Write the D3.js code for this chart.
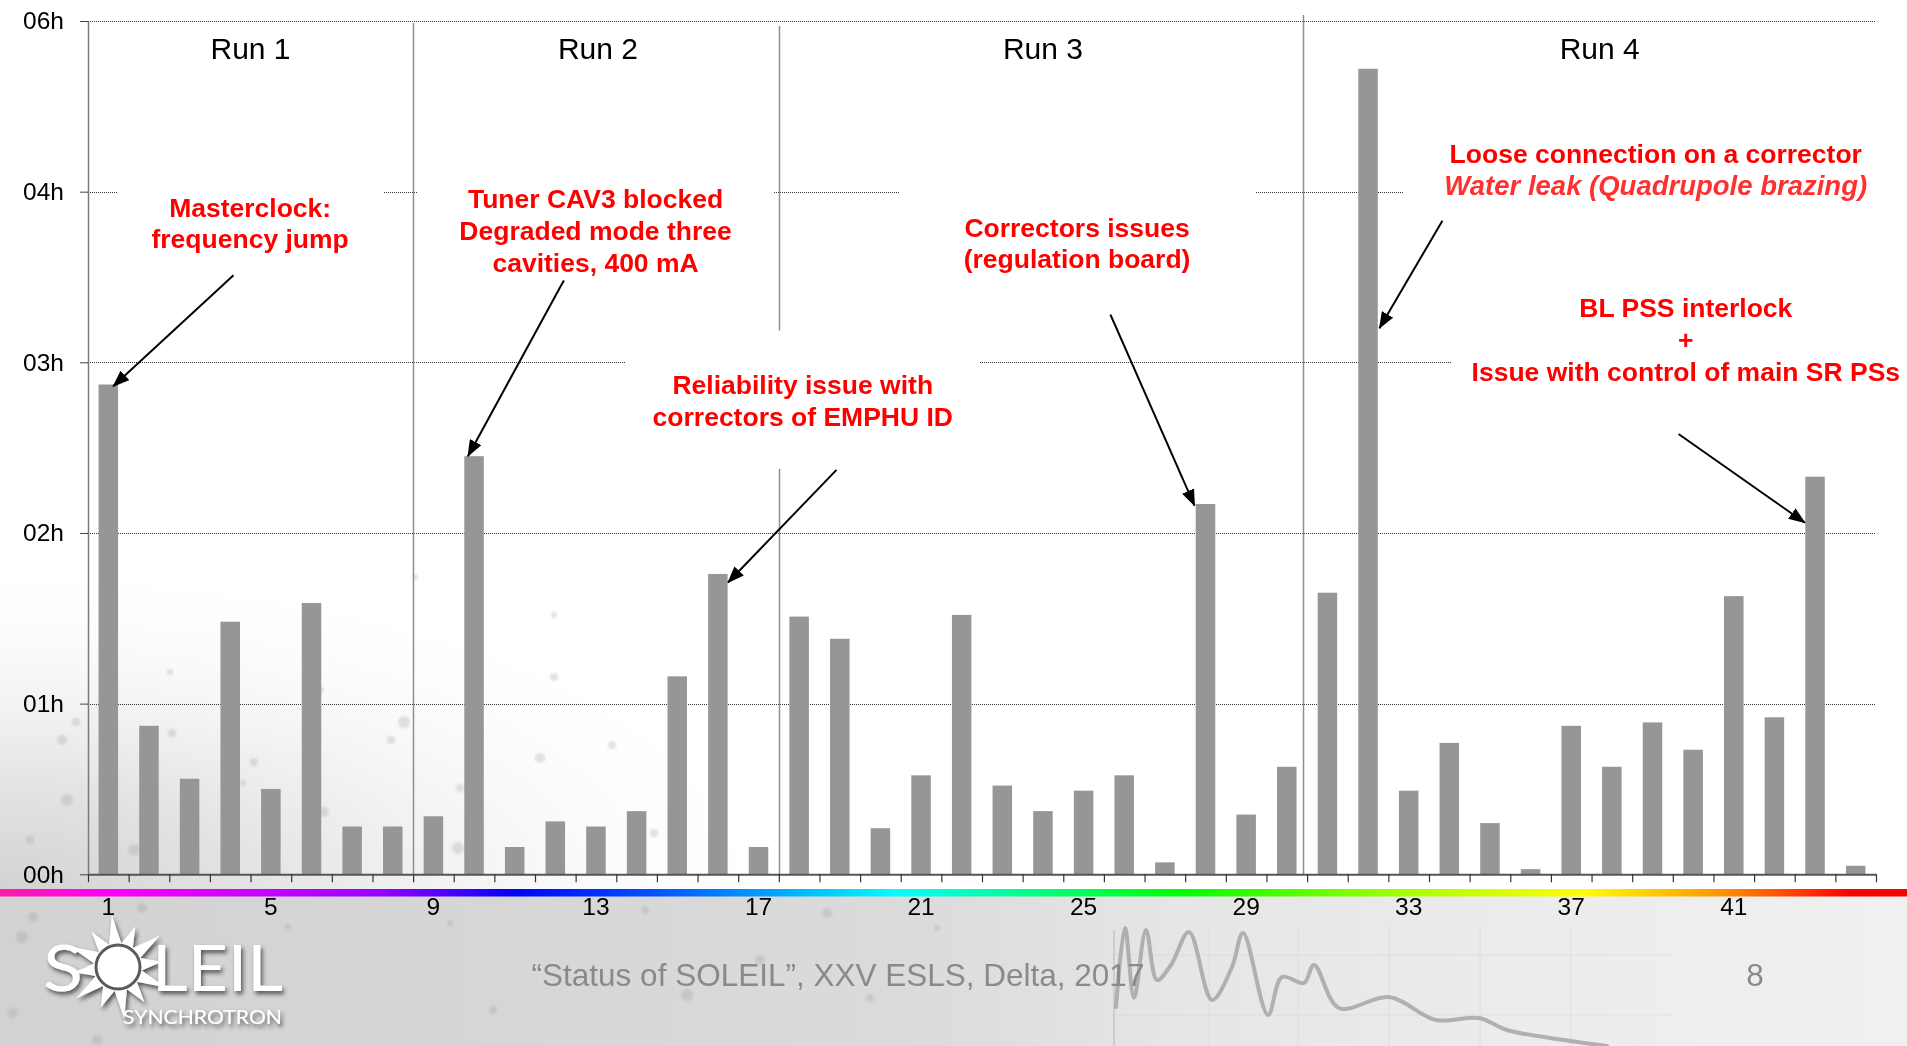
<!DOCTYPE html>
<html>
<head>
<meta charset="utf-8">
<title>SOLEIL beam losses per incident</title>
<script src="https://cdn.jsdelivr.net/npm/d3@7"></script>
<style>
  html, body { margin: 0; padding: 0; background: #ffffff; overflow: hidden; }
  svg { display: block; }
</style>
</head>
<body>
<svg id="chart" width="1907" height="1046"></svg>
<script>
// ---------- data ----------
const incidents = d3.range(1, 45);               // incident number 1..44
const downtimeHours = [
  2.87, 0.87, 0.56, 1.48, 0.50, 1.59, 0.28, 0.28,             // run 1
  0.34, 2.45, 0.16, 0.31, 0.28, 0.37, 1.16, 1.76, 0.16,       // run 2
  1.51, 1.38, 0.27, 0.58, 1.52, 0.52, 0.37, 0.49, 0.58, 0.07, 2.17, 0.35, 0.63, // run 3
  1.65, 4.72, 0.49, 0.77, 0.30, 0.03, 0.87, 0.63, 0.89, 0.73, 1.63, 0.92, 2.33, 0.05 // run 4
];
const yTickValues = [0, 1, 2, 3, 4, 5];
const yTickLabels = ["00h", "01h", "02h", "03h", "04h", "06h"];
const xTickValues = [1, 5, 9, 13, 17, 21, 25, 29, 33, 37, 41];
const runNames = ["Run 1", "Run 2", "Run 3", "Run 4"];
const runFirstIncident = [1, 9, 18, 31];
const runLastIncident = [8, 17, 30, 44];

// Call-outs: positions in incident units (u) and hours (h)
const annotations = [
  { lines: ["Masterclock:", "frequency jump"], cx: 3.99, base: 3.852, lh: 31.5,
    box: [0.74, 7.28, 4.10, 3.57], from: [3.58, 3.51], to: [0.62, 2.86] },
  { lines: ["Tuner CAV3 blocked", "Degraded mode three", "cavities, 400 mA"], cx: 12.49, base: 3.904, lh: 31.8,
    box: [8.10, 16.88, 4.13, 3.43], from: [11.71, 3.48], to: [9.35, 2.45] },
  { lines: ["Reliability issue with", "correctors of EMPHU ID"], cx: 17.59, base: 2.814, lh: 32,
    box: [13.24, 21.95, 3.186, 2.376], from: [18.42, 2.37], to: [15.75, 1.71] },
  { lines: ["Correctors issues", "(regulation board)"], cx: 24.34, base: 3.734, lh: 31,
    box: [19.96, 28.72, 4.10, 3.43], from: [25.16, 3.28], to: [27.23, 2.16] },
  { lines: ["Loose connection on a corrector", "Water leak (Quadrupole brazing)"], italic: [false, true],
    cx: 38.58, base: 4.168, lh: 32,
    box: [32.38, 46, 4.36, 3.89], from: [33.33, 3.83], to: [31.78, 3.20] },
  { lines: ["BL PSS interlock", "+", "Issue with control of main SR PSs"], cx: 39.32, base: 3.266, lh: 32,
    box: [33.54, 46, 3.43, 2.81], from: [39.14, 2.58], to: [42.25, 2.06] }
];

// ---------- layout ----------
const W = 1907, H = 1046;
const SANS = "'Liberation Sans', Arial, Helvetica, sans-serif";
const LOGO_FONT = "Lato, 'Open Sans', sans-serif";
const plotLeft = 88, plotRight = 1876, plotBottom = 874.3, plotTop = 21;

const x = d3.scaleBand().domain(incidents).range([plotLeft, plotRight])
  .paddingInner(0.52).paddingOuter(0.26);
const xPos = d3.scaleLinear().domain([0, incidents.length]).range([plotLeft, plotRight]);
const y = d3.scaleLinear().domain([0, 5]).range([plotBottom, plotTop]);

const svg = d3.select("#chart");
const defs = svg.append("defs");

// soft grey haze in the lower left of the slide
const haze = defs.append("radialGradient").attr("id", "haze")
  .attr("gradientUnits", "userSpaceOnUse").attr("cx", 0).attr("cy", 0).attr("r", 1)
  .attr("gradientTransform", "translate(0,889) scale(820,340)");
[[0, "#d3d3d3", 1], [0.3, "#e3e3e3", 1], [0.6, "#f3f3f3", 0.8], [1, "#ffffff", 0]]
  .forEach(([o, c, op]) => haze.append("stop").attr("offset", o).attr("stop-color", c).attr("stop-opacity", op));

const footerGrad = defs.append("linearGradient").attr("id", "footerGrad")
  .attr("x1", 0).attr("x2", 1).attr("y1", 0).attr("y2", 0);
[[0, "#d2d2d2"], [0.3, "#d7d7d7"], [0.48, "#dbdbdb"], [0.62, "#e6e6e6"], [0.8, "#ececec"], [1, "#f0f0f0"]]
  .forEach(([o, c]) => footerGrad.append("stop").attr("offset", o).attr("stop-color", c));

const rainbow = defs.append("linearGradient").attr("id", "rainbow")
  .attr("x1", 0).attr("x2", 1).attr("y1", 0).attr("y2", 0);
[[0, "#ff1aa8"], [0.06, "#ff00ff"], [0.2, "#9900ff"], [0.27, "#0000ff"], [0.36, "#0066ff"],
 [0.47, "#00ffff"], [0.62, "#00ff00"], [0.74, "#aaff00"], [0.83, "#ffff00"], [0.9, "#ff9900"], [0.97, "#ff0000"], [1, "#ff0000"]]
  .forEach(([o, c]) => rainbow.append("stop").attr("offset", o).attr("stop-color", c));

const shadow = defs.append("filter").attr("id", "logoShadow")
  .attr("x", "-20%").attr("y", "-20%").attr("width", "140%").attr("height", "140%");
shadow.append("feDropShadow").attr("dx", 2).attr("dy", 3).attr("stdDeviation", 2)
  .attr("flood-color", "#2a2a2a").attr("flood-opacity", 0.75);

const soft = defs.append("filter").attr("id", "soft");
soft.append("feGaussianBlur").attr("stdDeviation", 1.2);

defs.append("marker").attr("id", "arrowHead")
  .attr("viewBox", "0 0 17 13").attr("refX", 16).attr("refY", 6.5)
  .attr("markerWidth", 17).attr("markerHeight", 13)
  .attr("markerUnits", "userSpaceOnUse").attr("orient", "auto")
  .append("path").attr("d", "M0,0 L17,6.5 L0,13 Z").attr("fill", "#000");

// ---------- background ----------
svg.append("rect").attr("width", W).attr("height", H).attr("fill", "#ffffff");
svg.append("rect").attr("x", 0).attr("y", 540).attr("width", W).attr("height", 350).attr("fill", "url(#haze)");
svg.append("rect").attr("x", 0).attr("y", 889).attr("width", W).attr("height", H - 889).attr("fill", "url(#footerGrad)");

// dust specks of the slide background
const specks = [[76,722,4],[62,740,5],[67,800,6],[170,672,3],[172,733,4],[254,762,4],[243,783,3],[321,690,3],
  [324,812,5],[404,722,6],[391,740,4],[460,788,4],[458,848,6],[540,758,5],[554,677,4],[612,745,4],[654,833,4],
  [134,850,6],[554,615,3],[415,577,3],[33,917,5],[22,937,6],[142,908,5],[13,1013,5],[97,1040,5],[288,927,3],
  [450,923,3],[493,1010,4],[687,995,6],[827,913,5],[870,998,4],[937,928,3],[645,910,4],[760,960,5],[30,840,4]];
svg.append("g").attr("filter", "url(#soft)").selectAll("circle").data(specks).join("circle")
  .attr("cx", d => d[0]).attr("cy", d => d[1]).attr("r", d => d[2])
  .attr("fill", "#9a9a9a").attr("opacity", 0.28);

// faded beam-signal trace in the footer
const traceSamples = [[4,39],[13,118],[22,48],[34,116],[45,66],[59,81],[77,114],[100,46],[120,79],[131,113],
  [156,31],[170,69],[192,63],[202,81],[227,38],[277,49],[324,26],[367,28],[395,16],[452,6],[495,0]];
const tx = d3.scaleLinear().domain([0, 500]).range([1112, 1612]);
const ty = d3.scaleLinear().domain([0, 120]).range([1046, 926]);
const traceGrid = svg.append("g").attr("stroke", "#d6d6d6").attr("stroke-width", 1).attr("opacity", 0.6);
[97, 186, 277, 368, 459].forEach(t => traceGrid.append("line")
  .attr("x1", tx(t)).attr("x2", tx(t)).attr("y1", 925).attr("y2", H));
[91, 31].forEach(v => traceGrid.append("line")
  .attr("x1", tx(0)).attr("x2", tx(560)).attr("y1", ty(v)).attr("y2", ty(v)));
svg.append("line").attr("x1", tx(2)).attr("x2", tx(2)).attr("y1", 930).attr("y2", H)
  .attr("stroke", "#b8b8b8").attr("stroke-width", 1);
svg.append("path").datum(traceSamples)
  .attr("d", d3.line().x(d => tx(d[0])).y(d => ty(d[1])).curve(d3.curveCatmullRom))
  .attr("fill", "none").attr("stroke", "#a6a6a6").attr("stroke-width", 4)
  .attr("stroke-linecap", "round").attr("stroke-linejoin", "round").attr("opacity", 0.85);

// ---------- grid ----------
const crisp = v => Math.round(v) + 0.5;
svg.append("g").selectAll("line").data(yTickValues.filter(v => v > 0)).join("line")
  .attr("x1", plotLeft).attr("x2", plotRight)
  .attr("y1", d => crisp(y(d))).attr("y2", d => crisp(y(d)))
  .attr("stroke", "#333").attr("stroke-width", 1).attr("stroke-dasharray", "1,1");

// run separators
const runBoundaries = runLastIncident.slice(0, -1);
const dividerShift = [0, 0, -0.1];
const dividerTop = [y(5) + 2, y(5) + 5, y(5) - 6];
svg.append("g").selectAll("line").data(runBoundaries).join("line")
  .attr("x1", (d, i) => crisp(xPos(d + dividerShift[i]))).attr("x2", (d, i) => crisp(xPos(d + dividerShift[i])))
  .attr("y1", (d, i) => dividerTop[i]).attr("y2", y(0))
  .attr("stroke", "#8f8f8f").attr("stroke-width", 1.5);

// white call-out boxes sit over the grid
svg.append("g").selectAll("rect").data(annotations).join("rect")
  .attr("x", d => xPos(d.box[0])).attr("width", d => xPos(d.box[1]) - xPos(d.box[0]))
  .attr("y", d => y(d.box[2])).attr("height", d => y(d.box[3]) - y(d.box[2]))
  .attr("fill", "#ffffff");

// ---------- bars ----------
svg.append("g").selectAll("rect").data(downtimeHours).join("rect")
  .attr("x", (d, i) => x(incidents[i]))
  .attr("y", d => y(d))
  .attr("width", x.bandwidth())
  .attr("height", d => y(0) - y(d))
  .attr("fill", "#969696");

// ---------- axes ----------
const yAxis = svg.append("g").attr("transform", `translate(${plotLeft},0)`)
  .call(d3.axisLeft(y).tickValues(yTickValues).tickFormat((d, i) => yTickLabels[i])
    .tickSize(8).tickSizeOuter(0).tickPadding(16));
yAxis.select(".domain").attr("stroke", "#7a7a7a").attr("stroke-width", 1.5);
yAxis.selectAll(".tick line").attr("stroke", "#444");
yAxis.selectAll(".tick text").attr("font-family", SANS).attr("font-size", 24.5).attr("fill", "#000");

const xAxis = svg.append("g").attr("transform", `translate(0,${y(0)})`)
  .call(d3.axisBottom(xPos).tickValues(d3.range(0, incidents.length + 1)).tickFormat("")
    .tickSize(8).tickSizeOuter(0));
xAxis.select(".domain").attr("stroke", "#555").attr("stroke-width", 2);
xAxis.selectAll(".tick line").attr("stroke", "#333").attr("stroke-width", 1.2);

// colour band under the axis
svg.append("rect").attr("x", 0).attr("y", 889).attr("width", W).attr("height", 7.5).attr("fill", "url(#rainbow)");

const xLabels = svg.append("g").attr("transform", "translate(0,880)")
  .call(d3.axisBottom(x).tickValues(xTickValues).tickSize(0).tickPadding(18));
xLabels.select(".domain").remove();
xLabels.selectAll(".tick text").attr("font-family", SANS).attr("font-size", 24.5).attr("fill", "#000");

// ---------- run titles ----------
const runLabelShift = [0, 0.05, 0, 0.2];
svg.append("g").selectAll("text").data(runNames).join("text")
  .attr("x", (d, i) => xPos((runFirstIncident[i] - 1 + runLastIncident[i]) / 2 + runLabelShift[i]))
  .attr("y", 59)
  .attr("text-anchor", "middle")
  .attr("font-family", SANS).attr("font-size", 30).attr("fill", "#000")
  .text(d => d);

// ---------- call-outs ----------
const notes = svg.append("g");
annotations.forEach(a => {
  const t = notes.append("text")
    .attr("text-anchor", "middle").attr("font-family", SANS)
    .attr("font-size", 26.5).attr("font-weight", "bold");
  a.lines.forEach((line, i) => {
    const it = a.italic && a.italic[i];
    t.append("tspan")
      .attr("x", xPos(a.cx))
      .attr("y", y(a.base) + i * a.lh)
      .attr("font-style", it ? "italic" : "normal")
      .attr("font-size", it ? 27.5 : 26.5)
      .attr("fill", it ? "#ff3030" : "#ff0000")
      .text(line);
  });
  notes.append("line")
    .attr("x1", xPos(a.from[0])).attr("y1", y(a.from[1]))
    .attr("x2", xPos(a.to[0])).attr("y2", y(a.to[1]))
    .attr("stroke", "#000").attr("stroke-width", 2)
    .attr("marker-end", "url(#arrowHead)");
});

// ---------- footer ----------
svg.append("text").attr("x", 838).attr("y", 986).attr("text-anchor", "middle")
  .attr("font-family", SANS).attr("font-size", 31.5).attr("fill", "#8a8a8a")
  .text("\u201CStatus of SOLEIL\u201D, XXV ESLS, Delta, 2017");
svg.append("text").attr("x", 1755).attr("y", 986).attr("text-anchor", "middle")
  .attr("font-family", SANS).attr("font-size", 31.5).attr("fill", "#8a8a8a")
  .text("8");

// SOLEIL logo
const logo = svg.append("g").attr("filter", "url(#logoShadow)");
const sun = { cx: 118, cy: 967 };
const rayCount = 12;
const starPts = d3.range(rayCount * 2).map(k => {
  const ang = -Math.PI / 2 - 0.12 + k * Math.PI / rayCount;
  const r = k % 2 === 0 ? (k % 4 === 0 ? 52 : 44) : 24;
  return [sun.cx + r * Math.cos(ang), sun.cy + r * Math.sin(ang)];
});
logo.append("path").attr("d", d3.line()(starPts) + "Z").attr("fill", "#ffffff");
logo.append("circle").attr("cx", sun.cx).attr("cy", sun.cy).attr("r", 22)
  .attr("fill", "#ffffff").attr("stroke", "#5a5a5a").attr("stroke-width", 3);
logo.append("text").attr("x", 43).attr("y", 991)
  .attr("font-family", LOGO_FONT).attr("font-size", 64).attr("fill", "#ffffff")
  .attr("textLength", 40).attr("lengthAdjust", "spacingAndGlyphs").text("S");
logo.append("text").attr("x", 152).attr("y", 991)
  .attr("font-family", LOGO_FONT).attr("font-size", 64).attr("fill", "#ffffff")
  .attr("textLength", 131).attr("lengthAdjust", "spacingAndGlyphs").text("LEIL");
logo.append("text").attr("x", 123).attr("y", 1024)
  .attr("font-family", LOGO_FONT).attr("font-size", 19).attr("fill", "#ffffff")
  .attr("textLength", 159).attr("lengthAdjust", "spacingAndGlyphs").text("SYNCHROTRON");
</script>
</body>
</html>
